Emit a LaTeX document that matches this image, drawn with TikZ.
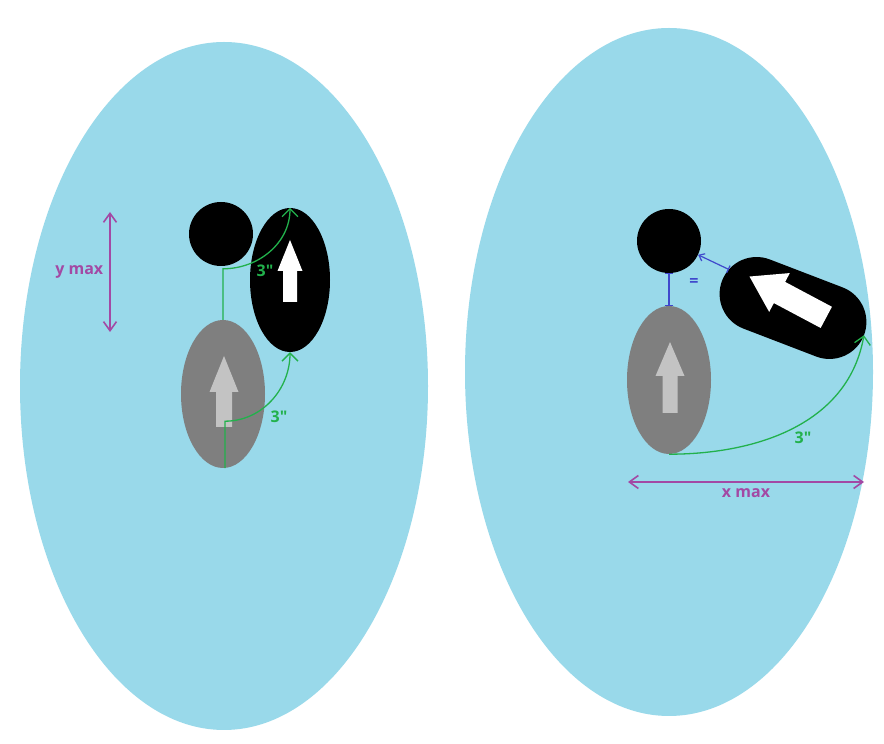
\documentclass[tikz,border=0pt]{standalone}
\usepackage{fontspec}
\setmainfont{Open Sans}
\usetikzlibrary{arrows.meta, positioning, shapes.geometric, shapes.misc}

\definecolor{skyfill}{HTML}{99D9EA}
\definecolor{midgray}{HTML}{7F7F7F}
\definecolor{arrowgray}{HTML}{C3C3C3}
\definecolor{measuregreen}{HTML}{22B14C}
\definecolor{maxpurple}{HTML}{A349A4}
\definecolor{linkblue}{HTML}{3F48CC}

\begin{document}
\begin{tikzpicture}[x=1pt, y=1pt,
    grayblob/.style={ellipse, fill=midgray, minimum width=84, minimum height=148, inner sep=0pt},
    darkdot/.style={circle, fill=black, minimum size=64, inner sep=0pt},
    measurearrow/.style={measuregreen, line width=1.3pt, -{Straight Barb[length=8pt, width=16pt]}},
    spanarrow/.style={maxpurple, line width=1.6pt, {Straight Barb[length=9pt, width=13pt]}-{Straight Barb[length=9pt, width=13pt]}},
    gapline/.style={linkblue, line width=1.2pt},
    lbl/.style={font=\bfseries\fontsize{16}{19}\selectfont, inner sep=1pt},
    pics/blockarrow/.style args={#1/#2/#3/#4}{code={
      \fill[pic actions] (-#1,-#3) -- (-#1,0) -- (-#2,0) -- (0,#4) -- (#2,0) -- (#1,0) -- (#1,-#3) -- cycle;}}
  ]
    \useasboundingbox[fill=white] (0,0) rectangle (884,744);

    % the two big ovals
    \fill[skyfill] (224,358) ellipse [x radius=204, y radius=344];
    \fill[skyfill] (669,372) ellipse [x radius=204, y radius=344];

    % left oval: upright pieces
    \node[darkdot] (dotL) at (221,510) {};
    \node[grayblob] (blobL) at (223,350) {};
    \node[grayblob, fill=black, minimum width=80, minimum height=144] (moverL) at (290,464) {};
    \pic[fill=arrowgray] at (224,352) {blockarrow=8/14.5/35/36};
    \pic[fill=white] at (290,473) {blockarrow=7/12.5/31/31};

    % green 3" measures
    \coordinate (bendA) at ([yshift=51]blobL.north);
    \draw[measurearrow] (blobL.north) -- (bendA) to[out=0, in=-90] (moverL.north);
    \coordinate (bendB) at ([xshift=2, yshift=47]blobL.south);
    \draw[measurearrow] ([xshift=2]blobL.south) -- (bendB) to[out=0, in=-90] (moverL.south);
    \node[lbl, measuregreen] (lenA) at (265,473) {3\textquotedbl};
    \node[lbl, measuregreen] (lenB) at (279,327) {3\textquotedbl};

    % y max
    \coordinate (ytop) at (110,532);
    \coordinate (ybot) at (110,412);
    \draw[spanarrow] (ytop) -- (ybot) node[midway, left=5pt, lbl, maxpurple] (ymaxtext) {y max};

    % right oval: tilted piece
    \node[darkdot] (dotR) at (669,503) {};
    \node[grayblob] (blobR) at (669,364) {};
    \node[rounded rectangle, draw=black, line width=2pt, fill=black, minimum width=150, minimum height=72,
          inner sep=0pt, rotate=-21] (pill) at (793,436) {};
    \pic[fill=arrowgray] at (670,368) {blockarrow=7.5/14.5/37/34};
    \pic[fill=white, rotate=62] at (779.5,451.5) {blockarrow=12/22/53/34};

    % blue gaps
    \draw[gapline, {Bar[width=8pt]}-{Bar[width=8pt]}] (dotR) -- (blobR);
    \draw[gapline, {Bar[width=8pt]}-{Straight Barb[length=5pt, width=8pt]}] (pill.170) -- (dotR);
    \node[lbl, linkblue] (eqsign) at (694,461) {=};

    % green 3" to the far end
    \draw[measurearrow] (blobR.south) to[out=0, in=-100] (pill.east);
    \node[lbl, measuregreen] (lenC) at (803,306) {3\textquotedbl};

    % x max
    \coordinate (xleft) at (628,262);
    \coordinate (xright) at (864,262);
    \draw[spanarrow] (xleft) -- (xright) node[midway, below=5pt, lbl, maxpurple] (xmaxtext) {x max};
\end{tikzpicture}
\end{document}
